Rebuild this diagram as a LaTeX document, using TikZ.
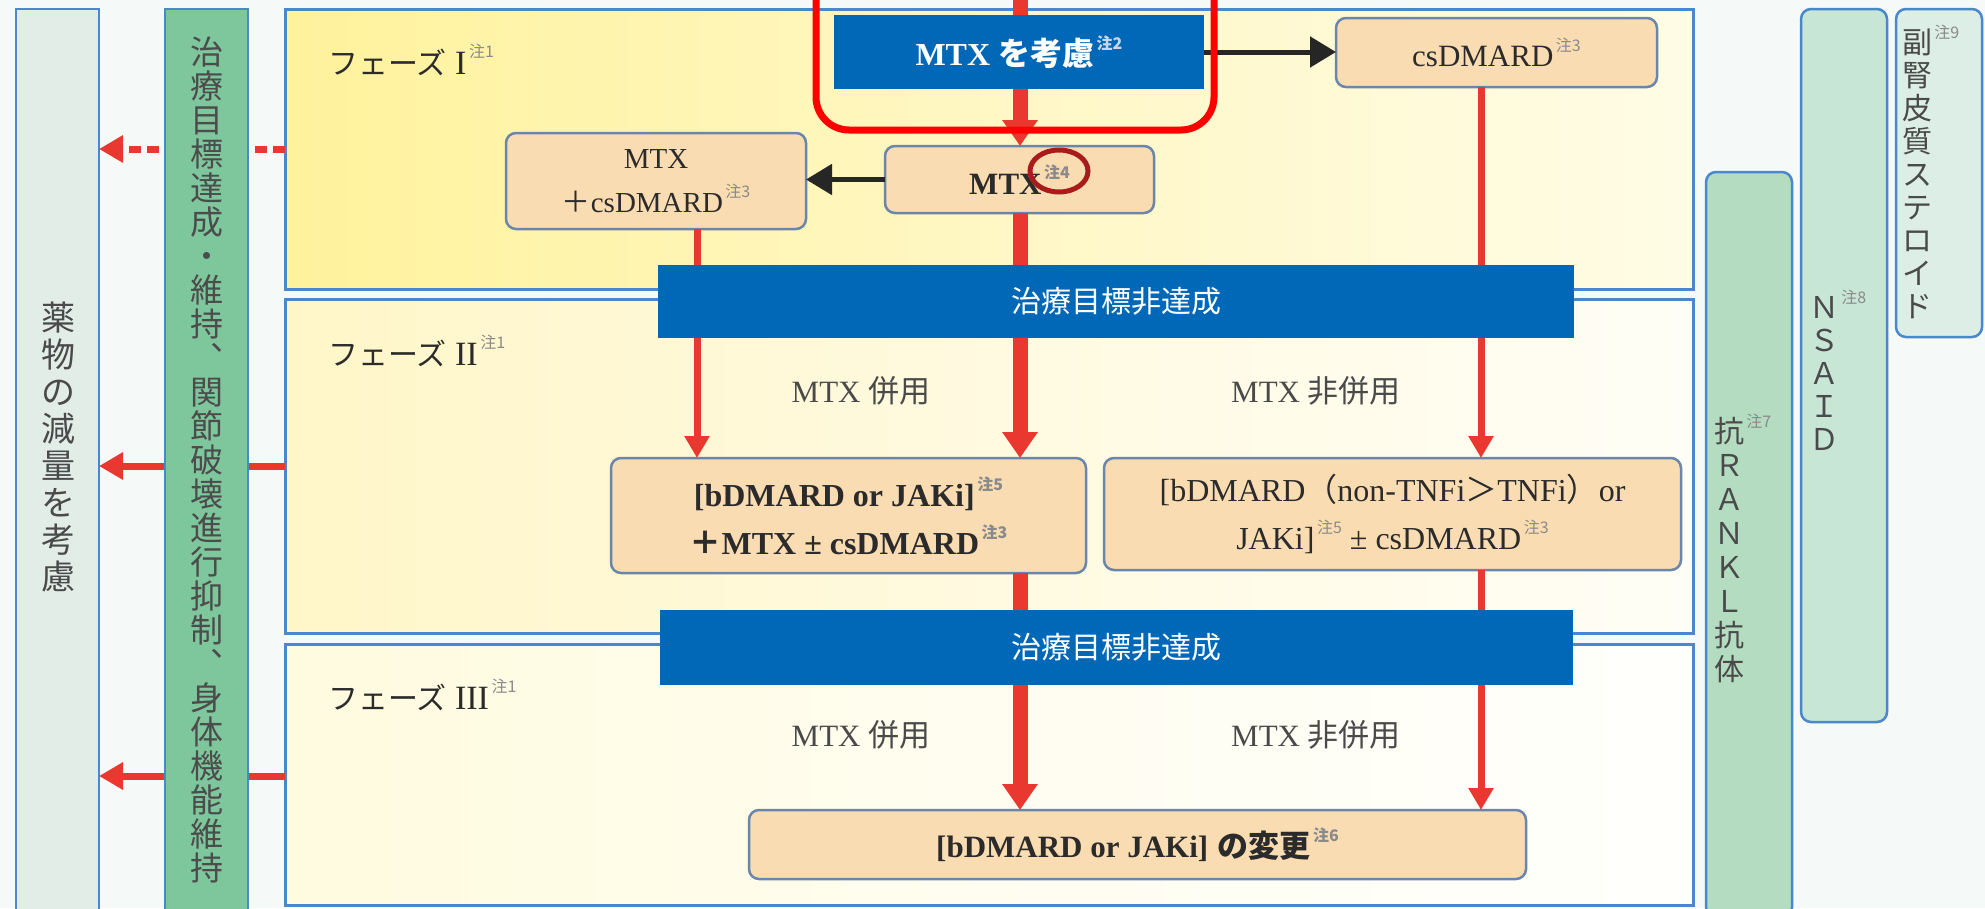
\documentclass[tikz,border=0pt]{standalone}
\usepackage{fontspec}
\setmainfont{Liberation Serif}
\newfontfamily\jp{Noto Sans CJK JP}
\usetikzlibrary{arrows.meta}

\definecolor{bgc}{HTML}{F5F9F7}
\definecolor{frameblue}{HTML}{4A87CC}
\definecolor{barblue}{HTML}{0068B7}
\definecolor{peach}{HTML}{FADCB2}
\definecolor{peachline}{HTML}{6A86AA}
\definecolor{arrred}{HTML}{E8382F}
\definecolor{hired}{HTML}{FF0000}
\definecolor{ringred}{HTML}{A81C1C}
\definecolor{txt}{HTML}{2B2B2B}
\definecolor{soft}{HTML}{4A4A4A}
\definecolor{ntcol}{HTML}{8A8A8A}
\definecolor{ntlight}{HTML}{C8D6E8}
\definecolor{goalgreen}{HTML}{7EC79C}
\definecolor{ranklgreen}{HTML}{B3DCC0}
\definecolor{nsaidgreen}{HTML}{C8E6D5}
\definecolor{sterogreen}{HTML}{DCEEE5}
\definecolor{dosegrey}{HTML}{E2EDE8}
\definecolor{pIa}{HTML}{FFF29C}
\definecolor{pIb}{HTML}{FFF7C4}
\definecolor{pIc}{HTML}{FFFCE6}
\definecolor{pIIa}{HTML}{FFF6C8}
\definecolor{pIIb}{HTML}{FFFAE0}
\definecolor{pIIc}{HTML}{FFFEF6}
\definecolor{pIIIa}{HTML}{FFFBDF}
\definecolor{pIIIb}{HTML}{FFFDF0}
\definecolor{pIIIc}{HTML}{FFFFFC}

\newcommand\fsz[1]{\fontsize{#1}{#1}\selectfont}
% small grey footnote marker
\newcommand\nt[2][ntcol]{\hspace{0.08em}\raisebox{0.5em}{\fsz{16}\jp\color{#1}注#2}}

\begin{document}
\begin{tikzpicture}[x=1pt,y=-1pt,
  every node/.style={inner sep=0pt, outer sep=0pt},
  phasebox/.style={draw=frameblue, line width=3pt, rectangle},
  drugbox/.style={draw=peachline, fill=peach, line width=2.5pt, rounded corners=10pt, align=center, text=txt},
  bluebar/.style={fill=barblue, text=white, font=\jp\fsz{30}},
  sidecol/.style={draw=frameblue, line width=2.5pt, rounded corners=10pt},
  vtext/.style={align=center, text=soft},
  steplabel/.style={font=\fsz{31}, text=soft},
  phaselabel/.style={anchor=west, font=\fsz{34}, text=txt},
  bigred/.style={draw=arrred, line width=15pt},
  bighead/.style={-{Triangle[width=34pt,length=26pt]}},
  smallred/.style={draw=arrred, line width=7pt},
  smallhead/.style={-{Triangle[width=24pt,length=22pt]}},
  blk/.style={draw=black!85, line width=5pt, -{Triangle[width=30pt,length=26pt]}},
  sidearrow/.style={draw=arrred, line width=7pt, -{Triangle[width=26pt,length=24pt]}}
]
\useasboundingbox (0,0) rectangle (1985,908);
\clip (0,0) rectangle (1985,908);
\fill[bgc] (0,0) rectangle (1985,908);

% dose reduction column
\node[sidecol, rounded corners=0pt, fill=dosegrey, minimum width=83pt, minimum height=905pt] (dose) at (57.5,461.5) {};
\node[vtext, font=\jp\fontsize{34}{37}\selectfont] (dosetxt) at (58,447) {薬\\物\\の\\減\\量\\を\\考\\慮};

% phase panels
\node[phasebox, left color=pIa, right color=pIc, middle color=pIb, minimum width=1408pt, minimum height=280pt] (ph1) at (989,149) {};
\node[phasebox, left color=pIIa, right color=pIIc, middle color=pIIb, minimum width=1408pt, minimum height=334pt] (ph2) at (989,466) {};
\node[phasebox, left color=pIIIa, right color=pIIIc, middle color=pIIIb, minimum width=1408pt, minimum height=261pt] (ph3) at (989,774.5) {};

% arrows towards dose reduction (pass behind the goal column)
\coordinate (ya) at (0,149);
\coordinate (yb) at (0,466);
\coordinate (yc) at (0,776);
\draw[sidearrow, dash pattern=on 12pt off 6pt] (ph1.west |- ya) -- (dose.east |- ya);
\draw[sidearrow] (ph2.west |- yb) -- (dose.east |- yb);
\draw[sidearrow] (ph3.west |- yc) -- (dose.east |- yc);

% treatment goal column
\node[sidecol, rounded corners=0pt, fill=goalgreen, minimum width=83pt, minimum height=905pt] (goal) at (206.5,461.5) {};
\node[vtext, font=\jp\fontsize{33}{34}\selectfont, text=black!70] (goaltxt) at (206.5,460)
  {治\\療\\目\\標\\達\\成\\・\\維\\持\\︑\\関\\節\\破\\壊\\進\\行\\抑\\制\\︑\\身\\体\\機\\能\\維\\持};

% phase titles
\node[phaselabel] (p1) at (328,60) {{\jp\fsz{30}フェーズ} I\nt{1}};
\node[phaselabel] (p2) at (328,351) {{\jp\fsz{30}フェーズ} II\nt{1}};
\node[phaselabel] (p3) at (328,695) {{\jp\fsz{30}フェーズ} III\nt{1}};

% boxes
\node[fill=barblue, text=white, font=\bfseries\fsz{32}, minimum width=370pt, minimum height=74pt] (consider) at (1019,52)
  {MTX {\jp\bfseries を考慮}\nt[ntlight]{2}};
\node[drugbox, font=\fsz{31}, minimum width=321pt, minimum height=69pt] (csd) at (1496.5,52.5) {csDMARD\nt{3}};
\node[drugbox, font=\bfseries\fsz{31}, minimum width=269pt, minimum height=67pt] (mtx) at (1019.5,179.5) {MTX\nt{4}};
\node[drugbox, font=\fontsize{29}{44}\selectfont, minimum width=300pt, minimum height=96pt] (mtxcs) at (656,181)
  {MTX\\{\jp ＋}csDMARD\nt{3}};
\node[bluebar, minimum width=916pt, minimum height=73pt] (bar1) at (1116,301.5) {治療目標非達成};
\node[drugbox, font=\bfseries\fontsize{32}{48}\selectfont, minimum width=475pt, minimum height=115pt] (bl) at (848.5,515.5)
  {[bDMARD or JAKi]\nt{5}\\{\jp\bfseries ＋}MTX ± csDMARD\nt{3}};
\node[drugbox, font=\fontsize{32}{48}\selectfont, minimum width=577pt, minimum height=112pt] (br) at (1392.5,514)
  {[bDMARD{\jp （}non-TNFi{\jp ＞}TNFi{\jp ）}or\\JAKi]\nt{5} ± csDMARD\nt{3}};
\node[bluebar, minimum width=913pt, minimum height=75pt] (bar2) at (1116.5,647.5) {治療目標非達成};
\node[drugbox, font=\bfseries\fsz{31}, minimum width=777pt, minimum height=69pt] (fin) at (1137.5,844.5)
  {[bDMARD or JAKi]\hspace{0.3em}{\jp\bfseries の変更}\nt{6}};

% branch labels
\node[steplabel] (l2a) at (861,391) {MTX {\jp 併用}};
\node[steplabel] (l2b) at (1316,391) {MTX {\jp 非併用}};
\node[steplabel] (l3a) at (861,735) {MTX {\jp 併用}};
\node[steplabel] (l3b) at (1316,735) {MTX {\jp 非併用}};

% main MTX path
\coordinate (cx) at (1020,0);
\draw[bigred] (cx) -- (cx |- consider.north);
\draw[bigred, bighead] (consider.south -| cx) -- (mtx.north -| cx);
\draw[bigred] (mtx.south -| cx) -- (bar1.north -| cx);
\draw[bigred, bighead] (bar1.south -| cx) -- (bl.north -| cx);
\draw[bigred] (bl.south -| cx) -- (bar2.north -| cx);
\draw[bigred, bighead] (bar2.south -| cx) -- (fin.north -| cx);

% MTX + csDMARD path
\coordinate (lx) at (697,0);
\draw[smallred] (mtxcs.south -| lx) -- (bar1.north -| lx);
\draw[smallred, smallhead] (bar1.south -| lx) -- (bl.north -| lx);

% csDMARD path
\coordinate (rx) at (1481,0);
\draw[smallred] (csd.south -| rx) -- (bar1.north -| rx);
\draw[smallred, smallhead] (bar1.south -| rx) -- (br.north -| rx);
\draw[smallred] (br.south -| rx) -- (bar2.north -| rx);
\draw[smallred, smallhead] (bar2.south -| rx) -- (fin.north -| rx);

% side branches
\draw[blk] (consider.east) -- (csd.west |- consider.east);
\draw[blk] (mtx.west) -- (mtxcs.east |- mtx.west);

% adjunct drug columns
\node[sidecol, fill=ranklgreen, minimum width=86pt, minimum height=745pt] (rankl) at (1749,544.5) {};
\node[vtext, font=\jp\fontsize{30}{34}\selectfont] (rankltxt) at (1729,548)
  {抗\rlap{\nt{7}}\\Ｒ\\Ａ\\Ｎ\\Ｋ\\Ｌ\\抗\\体};
\node[sidecol, fill=nsaidgreen, minimum width=86pt, minimum height=713pt] (nsaid) at (1844,365.5) {};
\node[vtext, font=\jp\fontsize{30}{33}\selectfont] (nsaidtxt) at (1824,370)
  {Ｎ\rlap{\nt{8}}\\Ｓ\\Ａ\\Ｉ\\Ｄ};
\node[sidecol, fill=sterogreen, minimum width=86pt, minimum height=328pt] (stero) at (1939,173) {};
\node[vtext, font=\jp\fontsize{30}{33}\selectfont] (sterotxt) at (1917,172)
  {副\rlap{\nt{9}}\\腎\\皮\\質\\ス\\テ\\ロ\\イ\\ド};

% emphasis marks
\draw[hired, line width=7pt, rounded corners=33pt] (816,-40) rectangle (1214,130);
\draw[ringred, line width=5pt] (1059,171) ellipse [x radius=29, y radius=21];
\end{tikzpicture}
\end{document}
